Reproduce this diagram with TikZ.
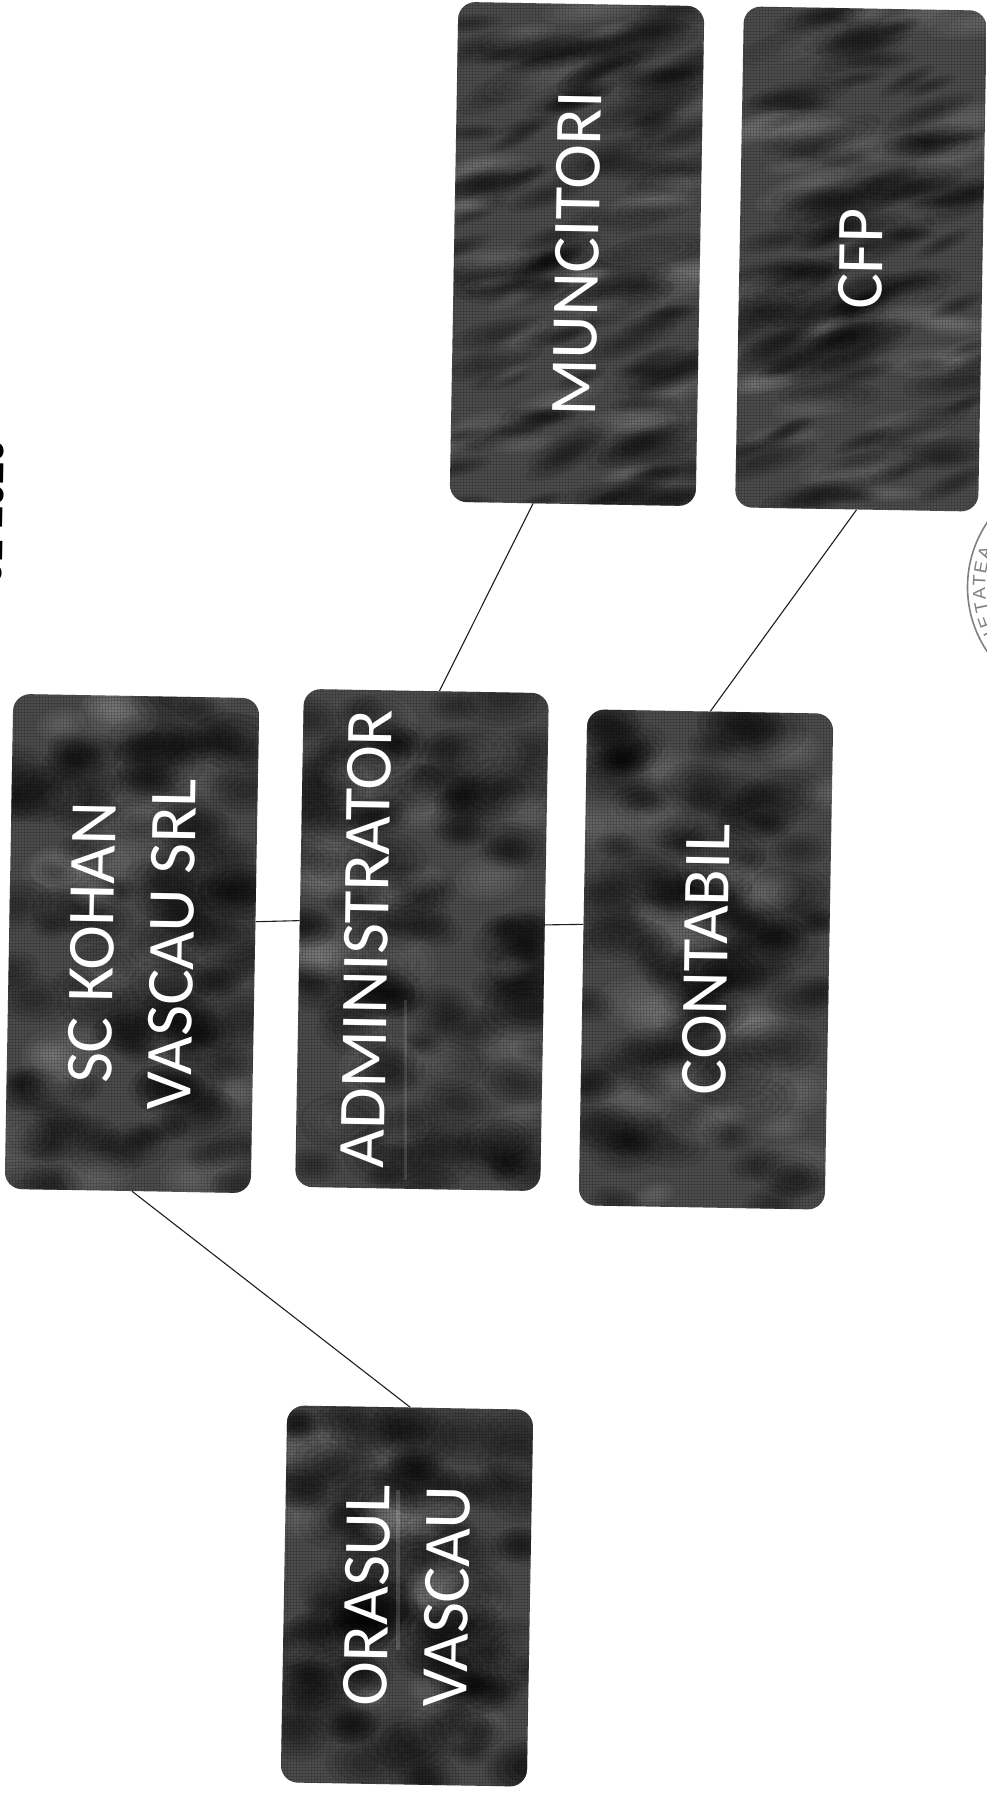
\documentclass[tikz,border=0pt]{standalone}
\usepackage{fontspec}
\setmainfont{Carlito}
\newfontfamily\stampfont{Liberation Sans}
\newcommand{\darkpanel}[9]{% cx cy halfx halfy seed angle rx ry extra
  \begin{scope}
    \path[clip,rounded corners=17pt,shift={(#1,#2)},rotate=-1] (-#3,-#4) rectangle (#3,#4);
    \fill[black!70] (#1-#3-12,#2-#4-12) rectangle (#1+#3+12,#2+#4+12);
    \begin{scope}[shift={(#1,#2)}]
    \foreach \i in {1,...,120}{
      \pgfmathsetmacro\bx{(#3)*(2*frac(abs(sin(\i*129.898+#5*7.3))*437.585)-1)}
      \pgfmathsetmacro\by{(#4)*(2*frac(abs(sin(\i*78.233+#5*3.1))*758.545)-1)}
      \pgfmathsetmacro\bs{0.5+0.7*frac(abs(sin(\i*37.719+#5))*91.37)}
      \pgfmathsetmacro\ba{#6+14*(2*frac(\i*0.2718281828)-1)}
      \pgfmathsetmacro\bb{frac(abs(sin(\i*51.77+#5*11))*219.3)<0.74 ? 0 : 1}
      \ifdim\bb pt<0.5pt
        \def\bc{black}\def\bo{0.09}
      \else
        \def\bc{white}\def\bo{0.035}
      \fi
      \foreach \k in {1,0.78,0.56,0.34}{
        \fill[\bc,opacity=\bo,shift={(\bx,\by)},rotate=\ba]
          (0,0) ellipse [x radius={\k*\bs*(#7)},y radius={\k*\bs*(#8)}];
      }
    }
    \end{scope}
    \pgfmathtruncatemacro\gx{#1}
    \pgfmathtruncatemacro\gy{#2}
    \begin{scope}[shift={(\gx,\gy)}]
      \foreach \yy in {-270,-267,...,270}{
        \draw[black,opacity=0.14,line width=1pt] (-140,\yy+.5) -- (140,\yy+.5);
      }
      \foreach \xx in {-135,-132,...,135}{
        \draw[black,opacity=0.14,line width=1pt] (\xx+.5,-270) -- (\xx+.5,270);
      }
    \end{scope}
    #9
  \end{scope}
}
\tikzset{
  darkbox/.style={draw=none,text=white,align=center,inner sep=0pt,rotate=89,
    font=\fontsize{67}{80}\selectfont},
  link/.style={draw=black!88,line width=1.1pt},
  stampletter/.style={text=black!50,inner sep=0pt,font=\stampfont\fontsize{18}{18}\selectfont},
}
\begin{document}
\begin{tikzpicture}[x=1pt,y=-1pt]
\useasboundingbox (0,0) rectangle (987,1795);
\fill[white] (0,0) rectangle (987,1795);

% clipped heading at the left edge
\node[rotate=89,anchor=south,inner sep=0pt,font=\stampfont\bfseries\fontsize{40}{40}\selectfont] (head) at (3.5,512) {01 2020};

% stamp, cut off by the right edge
\node[circle,draw=black!50,line width=1.6pt,minimum size=231pt,inner sep=0pt] (stamp) at (1083,587) {};
\foreach \ang/\ltr/\nm in {206/I/a,199.5/E/b,191.5/T/c,184/A/d,176.5/T/e,169/E/f,161/A/g}{
  \pgfmathsetmacro\px{1083+104*cos(\ang)}
  \pgfmathsetmacro\py{587-104*sin(\ang)}
  \pgfmathsetmacro\pr{\ang-90}
  \node[stampletter,rotate=\pr] (stamp\nm) at (\px,\py) {\ltr};
}

\darkpanel{132}{943.5}{123}{247.5}{11}{0}{40}{26}{}
\darkpanel{422}{940}{122.5}{249}{23}{0}{40}{26}{\fill[white,opacity=0.12] (404,1000) rectangle (407,1180);}
\darkpanel{706}{959.5}{123}{248}{37}{0}{40}{24}{}
\darkpanel{577}{254}{123}{250}{41}{14}{50}{14}{}
\darkpanel{861}{259}{121.5}{250.5}{53}{14}{50}{14}{}
\darkpanel{407}{1596}{123}{188.5}{67}{0}{38}{26}{\fill[white,opacity=0.15] (396,1490) rectangle (400,1650);}

\node[darkbox,minimum width=495pt,minimum height=246pt] (sc) at (132,943.5) {SC KOHAN\\VASCAU SRL};
\node[darkbox,minimum width=498pt,minimum height=245pt] (adm) at (422,940) {ADMINISTRATOR\\[32pt]\mbox{}};
\node[darkbox,minimum width=496pt,minimum height=246pt] (con) at (706,959.5) {CONTABIL};
\node[darkbox,minimum width=500pt,minimum height=246pt] (mun) at (577,254) {MUNCITORI};
\node[darkbox,minimum width=501pt,minimum height=243pt] (cfp) at (861,259) {CFP};
\node[darkbox,minimum width=377pt,minimum height=246pt] (ora) at (407,1596) {ORASUL\\VASCAU};

\draw[link] (sc.-79.1) -- (adm.82.6);
\draw[link] (adm.-82.5) -- (con.75.7);
\draw[link] (adm.-3) -- (mun.171.9);
\draw[link] (con.-0.4) -- (cfp.180);
\draw[link] (sc.-179.7) -- (ora.0.4);
\end{tikzpicture}
\end{document}
